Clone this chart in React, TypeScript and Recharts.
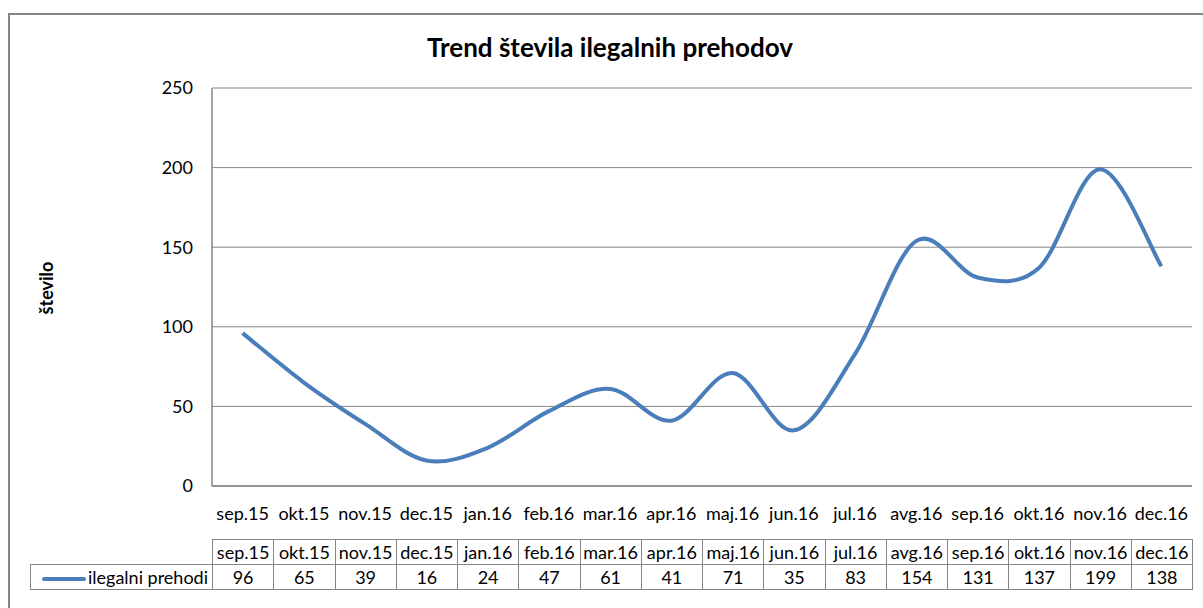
import { LineChart, Line, XAxis, YAxis, CartesianGrid } from "recharts";

const MONTHS = [
  "sep.15", "okt.15", "nov.15", "dec.15", "jan.16", "feb.16", "mar.16", "apr.16",
  "maj.16", "jun.16", "jul.16", "avg.16", "sep.16", "okt.16", "nov.16", "dec.16",
];
const PREHODI = [96, 65, 39, 16, 24, 47, 61, 41, 71, 35, 83, 154, 131, 137, 199, 138];
const Y_TICKS = [0, 50, 100, 150, 200, 250];
const SERIES_NAME = "ilegalni prehodi";

const data = MONTHS.map((month, i) => ({ month, prehodi: PREHODI[i] }));

const FONT = "Lato, 'Open Sans', sans-serif";
const GREY = "#868686";
const BLUE = "#4A7EBB";

// excel-style smoothed line (catmull-rom through the points)
function excelSmooth(context: any) {
  let pts: number[][] = [];
  return {
    areaStart() {},
    areaEnd() {},
    lineStart() {
      pts = [];
    },
    point(x: number, y: number) {
      pts.push([+x, +y]);
    },
    lineEnd() {
      if (!pts.length) return;
      context.moveTo(pts[0][0], pts[0][1]);
      for (let i = 0; i < pts.length - 1; i++) {
        const p0 = pts[i - 1] || pts[i];
        const p1 = pts[i];
        const p2 = pts[i + 1];
        const p3 = pts[i + 2] || p2;
        context.bezierCurveTo(
          p1[0] + (p2[0] - p0[0]) / 6,
          p1[1] + (p2[1] - p0[1]) / 6,
          p2[0] - (p3[0] - p1[0]) / 6,
          p2[1] - (p3[1] - p1[1]) / 6,
          p2[0],
          p2[1]
        );
      }
    },
  };
}

const PLOT_LEFT = 212;
const PLOT_RIGHT = 1192;
const COL_W = (PLOT_RIGHT - PLOT_LEFT) / MONTHS.length;

const cell: React.CSSProperties = {
  border: `1px solid ${GREY}`,
  padding: 0,
  height: 24,
  textAlign: "center",
  fontSize: 18,
  lineHeight: "24px",
  whiteSpace: "nowrap",
  overflow: "hidden",
};

export default function App() {
  return (
    <div
      style={{
        position: "fixed",
        left: 0,
        top: 0,
        width: 1203,
        height: 608,
        overflow: "hidden",
        background: "#fff",
        fontFamily: FONT,
        color: "#000",
      }}
    >
      <div
        style={{
          position: "absolute",
          left: 8,
          top: 13,
          width: 1400,
          height: 800,
          border: `2px solid ${GREY}`,
          boxSizing: "border-box",
        }}
      />
      <div
        style={{
          position: "absolute",
          left: 0,
          width: 1220,
          top: 29,
          textAlign: "center",
          fontSize: 26,
          fontWeight: 700,
          lineHeight: "36px",
        }}
      >
        Trend števila ilegalnih prehodov
      </div>
      <div
        style={{
          position: "absolute",
          left: 46,
          top: 288,
          transform: "translate(-50%, -50%) rotate(-90deg)",
          fontSize: 18,
          fontWeight: 700,
          whiteSpace: "nowrap",
        }}
      >
        število
      </div>

      <div style={{ position: "absolute", left: 0, top: 0 }}>
        <LineChart
          width={1203}
          height={608}
          data={data}
          margin={{ top: 88, right: 1203 - PLOT_RIGHT, left: PLOT_LEFT - 60, bottom: 608 - 486 - 40 }}
        >
          <CartesianGrid vertical={false} stroke={GREY} strokeWidth={1} />
          <XAxis
            dataKey="month"
            interval={0}
            height={40}
            padding={{ left: COL_W / 2, right: COL_W / 2 }}
            axisLine={{ stroke: GREY, strokeWidth: 1.5 }}
            tickLine={false}
            tickSize={0}
            tickMargin={21}
            tick={{ fill: "#000", fontSize: 18, fontFamily: FONT }}
          />
          <YAxis
            width={60}
            domain={[0, 250]}
            ticks={Y_TICKS}
            axisLine={{ stroke: GREY, strokeWidth: 1.5 }}
            tickLine={false}
            tickSize={0}
            tickMargin={19}
            tick={{ fill: "#000", fontSize: 18, fontFamily: FONT }}
          />
          <Line
            dataKey="prehodi"
            name={SERIES_NAME}
            type={excelSmooth as any}
            stroke={BLUE}
            strokeWidth={4}
            dot={false}
            activeDot={false}
            isAnimationActive={false}
          />
        </LineChart>
      </div>

      <table
        style={{
          position: "absolute",
          left: 30,
          top: 539,
          borderCollapse: "collapse",
          tableLayout: "fixed",
          width: PLOT_RIGHT - 30,
          fontFamily: FONT,
        }}
      >
        <colgroup>
          <col style={{ width: PLOT_LEFT - 30 }} />
          {MONTHS.map((m) => (
            <col key={m} style={{ width: COL_W }} />
          ))}
        </colgroup>
        <tbody>
          <tr>
            <td style={{ ...cell, border: "none" }} />
            {MONTHS.map((m) => (
              <td key={m} style={cell}>
                {m}
              </td>
            ))}
          </tr>
          <tr>
            <td style={{ ...cell, textAlign: "right", paddingRight: 4 }}>
              <span
                style={{
                  display: "inline-block",
                  width: 44,
                  height: 4,
                  borderRadius: 2,
                  background: BLUE,
                  verticalAlign: "middle",
                  marginRight: 2,
                }}
              />
              {SERIES_NAME}
            </td>
            {PREHODI.map((v, i) => (
              <td key={MONTHS[i]} style={cell}>
                {v}
              </td>
            ))}
          </tr>
        </tbody>
      </table>
    </div>
  );
}
